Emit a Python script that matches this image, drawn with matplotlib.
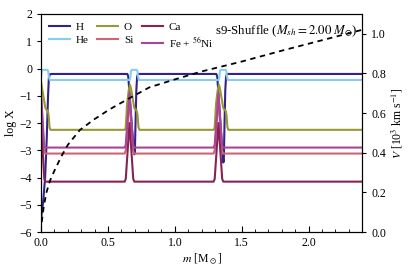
import matplotlib
matplotlib.use("Agg")
import matplotlib.pyplot as plt
from matplotlib.ticker import MultipleLocator

plt.rcParams['font.family'] = ['Liberation Serif', 'DejaVu Serif']
plt.rcParams['mathtext.fontset'] = 'stix'
plt.rcParams['font.size'] = 8.5

# mass coordinate [Msun] and log mass fractions
m_H = [0.0, 0.015, 0.03, 0.042, 0.052, 0.058, 0.065, 0.08,
       0.645, 0.652, 0.662, 0.680, 0.697, 0.701, 0.706, 0.712, 0.718, 0.725,
       1.310, 1.317, 1.327, 1.345, 1.362, 1.366, 1.371, 1.377, 1.383, 1.390, 2.4]
X_H = [-5.5, -4.9, -4.0, -2.6, -1.0, -0.35, -0.21, -0.2,
       -0.2, -0.3, -1.0, -2.2, -3.15, -3.1, -2.0, -0.8, -0.3, -0.2,
       -0.2, -0.3, -1.0, -2.3, -3.45, -3.4, -2.1, -0.8, -0.3, -0.2, -0.2]

m_He = [0.0, 0.005, 0.010, 0.048, 0.053, 0.058, 0.065,
        0.663, 0.668, 0.672, 0.677, 0.715, 0.720, 0.725, 0.731,
        1.328, 1.333, 1.337, 1.342, 1.380, 1.385, 1.390, 1.396, 2.4]
X_He = [-0.3, -0.1, -0.05, -0.05, -0.1, -0.3, -0.42,
        -0.42, -0.3, -0.1, -0.05, -0.05, -0.1, -0.3, -0.42,
        -0.42, -0.3, -0.1, -0.05, -0.05, -0.1, -0.3, -0.42, -0.42]

m_O = [0.0, 0.008, 0.020, 0.030, 0.037, 0.050, 0.056, 0.063, 0.070,
       0.627, 0.633, 0.643, 0.655, 0.665, 0.673, 0.685, 0.695, 0.702, 0.715, 0.721, 0.728, 0.735,
       1.292, 1.298, 1.308, 1.320, 1.330, 1.338, 1.350, 1.360, 1.367, 1.380, 1.386, 1.393, 1.400, 2.4]
X_O = [-0.5, -0.75, -1.1, -1.4, -1.5, -1.55, -1.7, -2.15, -2.25,
       -2.25, -2.15, -1.3, -0.8, -0.6, -0.75, -1.1, -1.4, -1.5, -1.55, -1.7, -2.15, -2.25,
       -2.25, -2.15, -1.3, -0.8, -0.6, -0.75, -1.1, -1.4, -1.5, -1.55, -1.7, -2.15, -2.25, -2.25]

m_Si = [0.0, 0.022, 0.030, 0.625, 0.633, 0.661, 0.687, 0.695,
        1.290, 1.298, 1.326, 1.352, 1.360, 2.4]
X_Si = [-1.1, -3.0, -3.12, -3.12, -3.0, -1.1, -3.0, -3.12,
        -3.12, -3.0, -1.1, -3.0, -3.12, -3.12]

m_Ca = [0.0, 0.024, 0.032, 0.625, 0.633, 0.661, 0.689, 0.697,
        1.290, 1.298, 1.326, 1.354, 1.362, 2.4]
X_Ca = [-2.0, -4.05, -4.15, -4.15, -4.05, -2.0, -4.05, -4.15,
        -4.15, -4.05, -2.0, -4.05, -4.15, -4.15]

m_Fe = [0.0, 0.022, 0.030, 0.625, 0.633, 0.661, 0.687, 0.695,
        1.290, 1.298, 1.326, 1.352, 1.360, 2.4]
X_Fe = [-0.9, -2.8, -2.9, -2.9, -2.8, -0.9, -2.8, -2.9,
        -2.9, -2.8, -0.9, -2.8, -2.9, -2.9]

# velocity [10^3 km/s]
m_V = [0.005, 0.02, 0.04, 0.067, 0.1, 0.15, 0.2, 0.29, 0.4, 0.515, 0.66,
       0.81, 1.0, 1.2, 1.5, 1.8, 2.0, 2.4]
V = [0.05, 0.13, 0.2, 0.26, 0.31, 0.38, 0.44, 0.515, 0.57, 0.62, 0.675,
     0.73, 0.77, 0.81, 0.86, 0.915, 0.95, 1.02]

species = [("H", m_H, X_H, "#332288"),
           ("He", m_He, X_He, "#88ccee"),
           ("O", m_O, X_O, "#999933"),
           ("Si", m_Si, X_Si, "#cc6677"),
           ("Ca", m_Ca, X_Ca, "#882255"),
           (r"Fe + $^{56}$Ni", m_Fe, X_Fe, "#aa4499")]

fig = plt.figure(figsize=(4.11, 2.74), dpi=100)
ax = fig.add_axes([0.1, 0.153, 0.781, 0.796])

for name, m, x, col in species:
    ax.plot(m, x, color=col, lw=1.5, label=name, solid_joinstyle='round')

ax.set_xlim(0, 2.4)
ax.set_ylim(-6, 2)
ax.set_yticks(range(-6, 3))
ax.xaxis.set_major_locator(MultipleLocator(0.5))
ax.xaxis.set_minor_locator(MultipleLocator(0.1))
ax.xaxis.set_major_formatter(matplotlib.ticker.FormatStrFormatter('%.1f'))
ax.tick_params(axis='x', direction='in', length=4, top=False)
ax.tick_params(axis='x', which='minor', direction='in', length=2)
ax.tick_params(axis='y', direction='out', length=3)
ax.set_xlabel(r"$m$ [M$_\odot$]", labelpad=2)
ax.set_ylabel(r"log X", labelpad=2)

ax.legend(loc='upper left', ncol=3, frameon=False, handlelength=1.9,
          handletextpad=0.5, columnspacing=0.8, labelspacing=0.3,
          borderaxespad=0.3, fontsize=8)

ax.text(0.985, 0.955, r"s9-Shuffle ($M_{sh} = 2.00\ M_{\odot}$)",
        transform=ax.transAxes, ha='right', va='top', fontsize=9.3)

ax2 = ax.twinx()
ax2.plot(m_V, V, color='black', lw=1.3, ls=(0, (3, 2.5)))
ax2.set_ylim(0, 1.1)
ax2.yaxis.set_major_locator(MultipleLocator(0.2))
ax2.yaxis.set_major_formatter(matplotlib.ticker.FormatStrFormatter('%.1f'))
ax2.tick_params(axis='y', direction='out', length=3)
ax2.set_ylabel(r"$V$ [10$^3$ km s$^{-1}$]", labelpad=3)

fig.savefig("out.png", dpi=100)
